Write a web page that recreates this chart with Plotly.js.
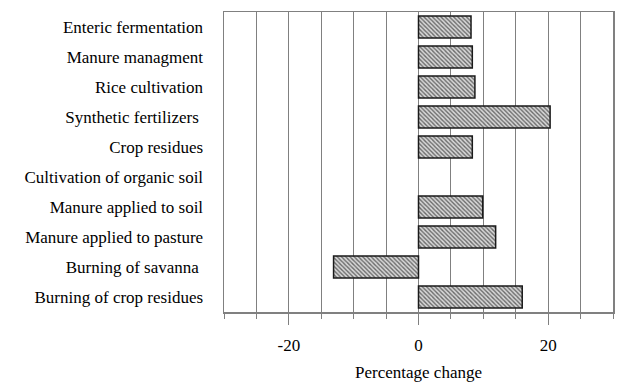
<!DOCTYPE html>
<html>
<head>
<meta charset="utf-8">
<script src="https://cdn.plot.ly/plotly-3.0.1.min.js"></script>
<style>
  html, body { margin: 0; padding: 0; background: #fff; }
  #plot { width: 624px; height: 391px; }
</style>
</head>
<body>
<div id="plot"></div>
<script>
// sources, listed top to bottom as in the chart
let sources = [
    'Enteric fermentation',
    'Manure managment',
    'Rice cultivation',
    'Synthetic fertilizers ',
    'Crop residues',
    'Cultivation of organic soil',
    'Manure applied to soil',
    'Manure applied to pasture',
    'Burning of savanna ',
    'Burning of crop residues'
];

// percentage change (no bar for organic soil)
let change = [8.1, 8.3, 8.7, 20.3, 8.3, null, 9.9, 11.9, -13.1, 16.0];

let xTicks = [-20, 0, 20];

let serif = 'Liberation Serif';

let trace = {
    type: 'bar',
    orientation: 'h',
    y: sources,
    x: change,
    width: 0.73,
    marker: {
        color: '#d8d8d8',
        line: { color: '#1a1a1a', width: 1.5 },
        pattern: { shape: '\\', fgcolor: '#6a6a6a', bgcolor: '#d8d8d8', size: 3, solidity: 0.45 }
    },
    hoverinfo: 'x+y'
};

let layout = {
    width: 624,
    height: 391,
    margin: { l: 224, r: 11, t: 12, b: 79 },
    paper_bgcolor: '#fff',
    plot_bgcolor: '#fff',
    showlegend: false,
    font: { family: serif, size: 17, color: '#000' },
    xaxis: {
        range: [-30, 30],
        tickmode: 'array',
        tickvals: xTicks,
        ticktext: xTicks.map(String),
        ticks: 'outside',
        ticklen: 11,
        tickcolor: '#808080',
        tickwidth: 1,
        ticklabelstandoff: 6,
        tickfont: { family: serif, size: 17, color: '#000' },
        showgrid: true,
        gridcolor: '#808080',
        gridwidth: 1,
        zeroline: false,
        showline: true,
        linecolor: '#808080',
        linewidth: 1.5,
        mirror: true,
        minor: {
            dtick: 5,
            tick0: 0,
            ticks: 'outside',
            ticklen: 5,
            tickcolor: '#808080',
            showgrid: true,
            gridcolor: '#808080',
            gridwidth: 1
        },
        title: { text: 'Percentage change', font: { family: serif, size: 17, color: '#000' }, standoff: 12 }
    },
    yaxis: {
        type: 'category',
        autorange: 'reversed',
        showgrid: false,
        zeroline: false,
        showline: true,
        linecolor: '#808080',
        linewidth: 1.5,
        mirror: true,
        ticks: '',
        ticklabelstandoff: 16,
        tickfont: { family: serif, size: 17, color: '#000' }
    },
    bargap: 0.27
};

Plotly.newPlot('plot', [trace], layout, { displayModeBar: false, staticPlot: true });
</script>
</body>
</html>
